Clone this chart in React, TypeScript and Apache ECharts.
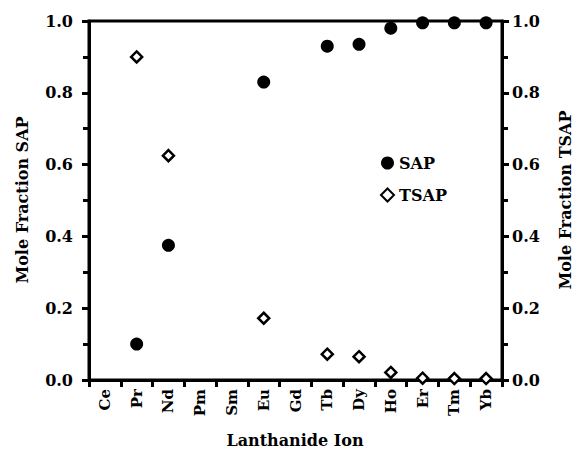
import React, { useEffect, useRef } from "react";
import * as echarts from "echarts";

const categories = ["Ce", "Pr", "Nd", "Pm", "Sm", "Eu", "Gd", "Tb", "Dy", "Ho", "Er", "Tm", "Yb"];
const sapValues: (number | null)[] = [null, 0.10, 0.375, null, null, 0.83, null, 0.93, 0.935, 0.98, 0.995, 0.995, 0.995];
const tsapValues: (number | null)[] = [null, 0.90, 0.625, null, null, 0.172, null, 0.072, 0.065, 0.021, 0.005, 0.004, 0.004];
const seriesNames = ["SAP", "TSAP"];
const xTitle = "Lanthanide Ion";
const yLeftTitle = "Mole Fraction SAP";
const yRightTitle = "Mole Fraction TSAP";

const FONT = "DejaVu Serif";
const BLACK = "#000";

export default function App() {
  const ref = useRef<HTMLDivElement>(null);
  useEffect(() => {
    if (!ref.current) return;
    const chart = echarts.init(ref.current, undefined, { renderer: "svg" });
    const yAxisBase = (position: string, margin: number) => ({
      type: "value",
      position,
      min: 0,
      max: 1,
      interval: 0.2,
      axisLine: { show: true, lineStyle: { color: BLACK, width: 3 } },
      axisTick: { show: true, inside: false, length: 7, lineStyle: { color: BLACK, width: 3 } },
      minorTick: { show: true, splitNumber: 2, length: 6, lineStyle: { color: BLACK, width: 3 } },
      splitLine: { show: false },
      minorSplitLine: { show: false },
      axisLabel: {
        show: true,
        margin,
        fontFamily: FONT,
        fontSize: 16,
        fontWeight: "bold",
        color: BLACK,
        formatter: (v: number) => v.toFixed(1),
      },
    });
    const titleText = (text: string, x: number, y: number, rotation: number) => ({
      type: "text",
      x,
      y,
      rotation,
      style: {
        text,
        fontFamily: FONT,
        fontSize: 16,
        fontWeight: "bold",
        fill: BLACK,
        textAlign: "center",
        textVerticalAlign: "middle",
      },
    });
    chart.setOption({
      animation: false,
      backgroundColor: "#fff",
      grid: { left: 89, right: 77, top: 21, bottom: 80, show: true, borderColor: BLACK, borderWidth: 3, backgroundColor: "transparent" },
      legend: {
        orient: "vertical",
        left: 375,
        top: 150,
        itemWidth: 13,
        itemHeight: 13,
        itemGap: 16,
        data: seriesNames,
        textStyle: { fontFamily: FONT, fontSize: 16, fontWeight: "bold", color: BLACK },
      },
      graphic: [
        titleText(yLeftTitle, 22, 200, Math.PI / 2),
        titleText(yRightTitle, 565, 200, Math.PI / 2),
        titleText(xTitle, 295, 440, 0),
      ],
      xAxis: {
        type: "category",
        data: categories,
        axisLine: { show: true, lineStyle: { color: BLACK, width: 3 } },
        axisTick: { show: true, length: 7, lineStyle: { color: BLACK, width: 3 } },
        axisLabel: {
          rotate: 90,
          margin: 9,
          interval: 0,
          fontFamily: FONT,
          fontSize: 15,
          fontWeight: "bold",
          color: BLACK,
        },
        splitLine: { show: false },
      },
      yAxis: [yAxisBase("left", 16), yAxisBase("right", 10)],
      series: [
        {
          name: seriesNames[0],
          type: "scatter",
          yAxisIndex: 0,
          clip: false,
          symbol: "circle",
          symbolSize: 13,
          itemStyle: { color: BLACK, opacity: 1 },
          data: sapValues.map((v) => (v === null ? "-" : v)),
          z: 5,
        },
        {
          name: seriesNames[1],
          type: "scatter",
          yAxisIndex: 1,
          clip: false,
          symbol: "diamond",
          symbolSize: 11,
          itemStyle: { color: "#fff", borderColor: BLACK, borderWidth: 2.5, opacity: 1 },
          data: tsapValues.map((v) => (v === null ? "-" : v)),
          z: 5,
        },
      ],
    });
    return () => chart.dispose();
  }, []);
  return (
    <div
      ref={ref}
      style={{ position: "absolute", left: 0, top: 0, width: 579, height: 460, background: "#fff" }}
    />
  );
}
